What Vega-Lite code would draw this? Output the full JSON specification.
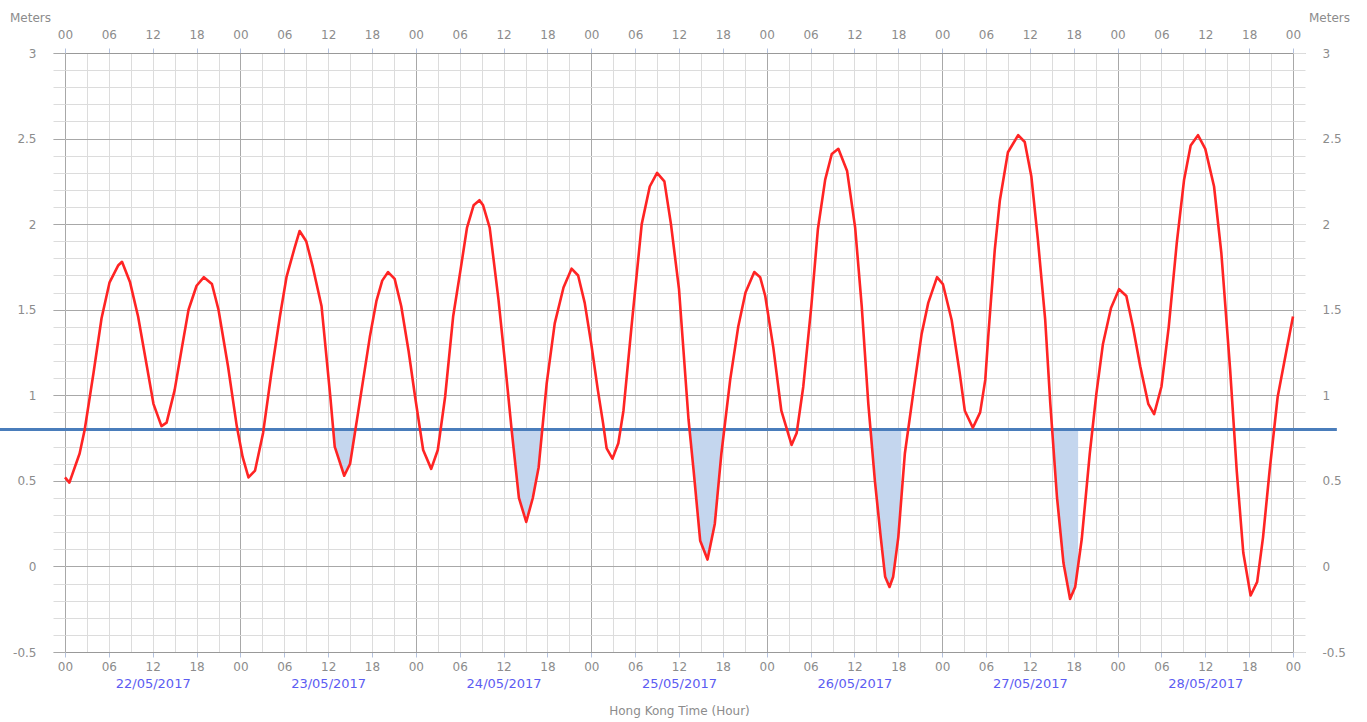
{
  "$schema": "https://vega.github.io/schema/vega-lite/v6.json",
  "width": 1228,
  "height": 599,
  "autosize": "none",
  "padding": {"left": 65, "top": 53, "right": 74, "bottom": 70},
  "background": "white",
  "config": {
    "view": {"stroke": null},
    "axis": {"labelFont": "DejaVu Sans", "titleFont": "DejaVu Sans", "labelFontSize": 12, "titleFontSize": 12, "titleFontWeight": "normal", "labelColor": "#8c8c8c", "titleColor": "#8c8c8c", "labelFlush": false, "labelOverlap": false}
  },
  "datasets": {
    "tide": [
      {"hour":0,"level":0.52},{"hour":0.6,"level":0.49},{"hour":2.0,"level":0.66},{"hour":2.7,"level":0.80},{"hour":3.9,"level":1.13},{"hour":5.0,"level":1.45},{"hour":6.1,"level":1.66},{"hour":7.3,"level":1.76},{"hour":7.8,"level":1.78},{"hour":8.9,"level":1.66},{"hour":10.0,"level":1.46},{"hour":11.2,"level":1.17},{"hour":12.1,"level":0.95},{"hour":13.2,"level":0.82},{"hour":13.9,"level":0.84},{"hour":15.0,"level":1.03},{"hour":16.0,"level":1.28},{"hour":16.9,"level":1.50},{"hour":18.0,"level":1.64},{"hour":19.0,"level":1.69},{"hour":20.1,"level":1.65},{"hour":21.0,"level":1.50},{"hour":22.3,"level":1.17},{"hour":23.5,"level":0.82},{"hour":24.3,"level":0.64},{"hour":25.1,"level":0.52},{"hour":26.0,"level":0.56},{"hour":27.1,"level":0.78},{"hour":28.2,"level":1.12},{"hour":29.4,"level":1.46},{"hour":30.3,"level":1.69},{"hour":31.4,"level":1.86},{"hour":32.1,"level":1.96},{"hour":33.0,"level":1.90},{"hour":33.9,"level":1.75},{"hour":35.1,"level":1.52},{"hour":36.3,"level":0.99},{"hour":36.9,"level":0.70},{"hour":38.2,"level":0.53},{"hour":39.0,"level":0.60},{"hour":40.1,"level":0.90},{"hour":41.7,"level":1.34},{"hour":42.6,"level":1.55},{"hour":43.4,"level":1.67},{"hour":44.2,"level":1.72},{"hour":45.1,"level":1.68},{"hour":46.0,"level":1.52},{"hour":47.0,"level":1.26},{"hour":47.9,"level":0.99},{"hour":49.0,"level":0.68},{"hour":50.1,"level":0.57},{"hour":51.0,"level":0.68},{"hour":52.0,"level":0.99},{"hour":53.1,"level":1.46},{"hour":54.1,"level":1.73},{"hour":55.0,"level":1.98},{"hour":55.9,"level":2.11},{"hour":56.7,"level":2.14},{"hour":57.2,"level":2.11},{"hour":58.1,"level":1.98},{"hour":59.3,"level":1.56},{"hour":60.2,"level":1.19},{"hour":61.1,"level":0.80},{"hour":62.1,"level":0.40},{"hour":63.1,"level":0.26},{"hour":64.0,"level":0.40},{"hour":64.8,"level":0.58},{"hour":65.9,"level":1.07},{"hour":67.0,"level":1.42},{"hour":68.2,"level":1.63},{"hour":69.3,"level":1.74},{"hour":70.2,"level":1.70},{"hour":71.1,"level":1.54},{"hour":72.0,"level":1.30},{"hour":72.9,"level":1.03},{"hour":73.6,"level":0.84},{"hour":74.1,"level":0.69},{"hour":74.9,"level":0.63},{"hour":75.7,"level":0.72},{"hour":76.4,"level":0.91},{"hour":77.5,"level":1.40},{"hour":78.9,"level":2.00},{"hour":80.0,"level":2.22},{"hour":81.0,"level":2.30},{"hour":82.0,"level":2.25},{"hour":82.9,"level":2.00},{"hour":84.0,"level":1.62},{"hour":85.3,"level":0.86},{"hour":86.0,"level":0.56},{"hour":86.9,"level":0.15},{"hour":87.9,"level":0.04},{"hour":88.9,"level":0.25},{"hour":89.8,"level":0.66},{"hour":91.0,"level":1.09},{"hour":92.1,"level":1.40},{"hour":93.1,"level":1.60},{"hour":94.3,"level":1.72},{"hour":95.1,"level":1.69},{"hour":95.8,"level":1.58},{"hour":96.9,"level":1.28},{"hour":98.0,"level":0.91},{"hour":99.4,"level":0.71},{"hour":100.1,"level":0.78},{"hour":101.0,"level":1.05},{"hour":102.1,"level":1.52},{"hour":103.0,"level":1.97},{"hour":104.0,"level":2.26},{"hour":104.9,"level":2.41},{"hour":105.8,"level":2.44},{"hour":107.0,"level":2.31},{"hour":108.1,"level":1.98},{"hour":109.0,"level":1.52},{"hour":109.9,"level":0.95},{"hour":110.8,"level":0.50},{"hour":111.6,"level":0.17},{"hour":112.2,"level":-0.06},{"hour":112.8,"level":-0.12},{"hour":113.3,"level":-0.06},{"hour":114.0,"level":0.17},{"hour":114.9,"level":0.66},{"hour":116.1,"level":1.03},{"hour":117.2,"level":1.36},{"hour":118.1,"level":1.54},{"hour":119.3,"level":1.69},{"hour":120.1,"level":1.65},{"hour":121.3,"level":1.44},{"hour":122.4,"level":1.13},{"hour":123.1,"level":0.91},{"hour":124.2,"level":0.81},{"hour":125.2,"level":0.90},{"hour":125.9,"level":1.09},{"hour":126.3,"level":1.34},{"hour":127.2,"level":1.85},{"hour":127.9,"level":2.14},{"hour":129.0,"level":2.42},{"hour":130.4,"level":2.52},{"hour":131.3,"level":2.48},{"hour":132.2,"level":2.28},{"hour":133.1,"level":1.91},{"hour":134.1,"level":1.44},{"hour":134.8,"level":0.95},{"hour":135.7,"level":0.41},{"hour":136.6,"level":0.02},{"hour":137.5,"level":-0.19},{"hour":138.2,"level":-0.12},{"hour":139.1,"level":0.16},{"hour":140.2,"level":0.66},{"hour":141.1,"level":1.01},{"hour":142.0,"level":1.30},{"hour":143.1,"level":1.51},{"hour":144.2,"level":1.62},{"hour":145.2,"level":1.58},{"hour":146.1,"level":1.40},{"hour":147.1,"level":1.17},{"hour":148.2,"level":0.95},{"hour":149.0,"level":0.89},{"hour":150.0,"level":1.05},{"hour":151.0,"level":1.40},{"hour":152.1,"level":1.89},{"hour":153.1,"level":2.26},{"hour":154.0,"level":2.46},{"hour":155.0,"level":2.52},{"hour":156.0,"level":2.44},{"hour":157.2,"level":2.22},{"hour":158.2,"level":1.83},{"hour":159.4,"level":1.15},{"hour":160.3,"level":0.56},{"hour":161.2,"level":0.08},{"hour":162.2,"level":-0.17},{"hour":163.1,"level":-0.09},{"hour":163.9,"level":0.17},{"hour":164.8,"level":0.56},{"hour":165.9,"level":0.99},{"hour":167.1,"level":1.26},{"hour":168.0,"level":1.46}
    ],
    "shade": [
      {"hour":36.7,"level":0.8,"trough":"A"},{"hour":36.9,"level":0.70,"trough":"A"},{"hour":38.2,"level":0.53,"trough":"A"},{"hour":39.0,"level":0.60,"trough":"A"},{"hour":39.7,"level":0.8,"trough":"A"},
      {"hour":61.1,"level":0.8,"trough":"B"},{"hour":62.1,"level":0.40,"trough":"B"},{"hour":63.1,"level":0.26,"trough":"B"},{"hour":64.0,"level":0.40,"trough":"B"},{"hour":64.8,"level":0.58,"trough":"B"},{"hour":65.3,"level":0.8,"trough":"B"},
      {"hour":85.4,"level":0.8,"trough":"C"},{"hour":86.0,"level":0.56,"trough":"C"},{"hour":86.9,"level":0.15,"trough":"C"},{"hour":87.9,"level":0.04,"trough":"C"},{"hour":88.9,"level":0.25,"trough":"C"},{"hour":89.8,"level":0.66,"trough":"C"},{"hour":90.1,"level":0.8,"trough":"C"},
      {"hour":110.2,"level":0.8,"trough":"D"},{"hour":110.8,"level":0.50,"trough":"D"},{"hour":111.6,"level":0.17,"trough":"D"},{"hour":112.2,"level":-0.06,"trough":"D"},{"hour":112.8,"level":-0.12,"trough":"D"},{"hour":113.3,"level":-0.06,"trough":"D"},{"hour":114.0,"level":0.17,"trough":"D"},{"hour":114.4,"level":0.36,"trough":"D"},
      {"hour":135.05,"level":0.8,"trough":"E"},{"hour":135.7,"level":0.41,"trough":"E"},{"hour":136.6,"level":0.02,"trough":"E"},{"hour":137.5,"level":-0.19,"trough":"E"},{"hour":138.2,"level":-0.12,"trough":"E"},{"hour":138.6,"level":0.03,"trough":"E"}
    ],
    "threshold": [{"from":-8.9,"to":174,"level":0.8}]
  },
  "resolve": {"axis": {"x": "independent", "y": "independent"}},
  "layer": [
    {
      "data": {"name": "shade"},
      "mark": {"type": "area", "color": "#c4d6ee", "opacity": 1},
      "encoding": {
        "x": {"field": "hour", "type": "quantitative", "scale": {"domain": [0, 168], "nice": false, "zero": false},
          "axis": {"orient": "bottom", "values": [0,3,6,9,12,15,18,21,24,27,30,33,36,39,42,45,48,51,54,57,60,63,66,69,72,75,78,81,84,87,90,93,96,99,102,105,108,111,114,117,120,123,126,129,132,135,138,141,144,147,150,153,156,159,162,165,168],
            "grid": true, "gridColor": "#dcdcdc", "gridWidth": 1, "labels": false, "ticks": false, "domain": false, "title": null}},
        "y": {"field": "level", "type": "quantitative", "scale": {"domain": [-0.5, 3], "nice": false, "zero": false},
          "axis": {"orient": "left", "values": [-0.5,-0.4,-0.3,-0.2,-0.1,0,0.1,0.2,0.3,0.4,0.5,0.6,0.7,0.8,0.9,1,1.1,1.2,1.3,1.4,1.5,1.6,1.7,1.8,1.9,2,2.1,2.2,2.3,2.4,2.5,2.6,2.7,2.8,2.9,3],
            "grid": true, "gridColor": "#dcdcdc", "gridWidth": 1, "ticks": true, "tickSize": 12, "tickColor": "#dcdcdc", "labels": false, "domain": false, "title": null}},
        "y2": {"datum": 0.8},
        "detail": {"field": "trough", "type": "nominal"}
      }
    },
    {
      "data": {"name": "threshold"},
      "mark": {"type": "rule", "color": "#4a7dbb", "strokeWidth": 3, "clip": false},
      "encoding": {
        "x": {"field": "from", "type": "quantitative", "scale": {"domain": [0, 168], "nice": false, "zero": false},
          "axis": {"orient": "bottom", "values": [0,24,48,72,96,120,144,168], "grid": true, "gridColor": "#a8a8a8", "gridWidth": 1, "labels": false, "ticks": false, "domain": false, "title": null}},
        "x2": {"field": "to"},
        "y": {"field": "level", "type": "quantitative", "scale": {"domain": [-0.5, 3], "nice": false, "zero": false},
          "axis": {"orient": "left", "values": [-0.5,0,0.5,1,1.5,2,2.5,3], "grid": true, "gridColor": "#a8a8a8", "gridWidth": 1, "ticks": true, "tickSize": 12, "tickColor": "#a8a8a8", "labelPadding": 17, "labelExpr": "toString(datum.value)", "domain": false,
            "title": "Meters", "titleAngle": 0, "titleX": -35, "titleY": -36, "titleAlign": "center", "titleBaseline": "middle"}}
      }
    },
    {
      "data": {"name": "tide"},
      "mark": {"type": "line", "color": "#ff2424", "strokeWidth": 2.6, "strokeJoin": "round"},
      "encoding": {
        "x": {"field": "hour", "type": "quantitative", "scale": {"domain": [0, 168], "nice": false, "zero": false},
          "axis": {"orient": "bottom", "values": [0,6,12,18,24,30,36,42,48,54,60,66,72,78,84,90,96,102,108,114,120,126,132,138,144,150,156,162,168],
            "labelExpr": "(datum.value % 24) < 10 ? '0' + (datum.value % 24) : '' + (datum.value % 24)",
            "grid": false, "ticks": true, "tickSize": 5, "tickColor": "#b4c2de", "domain": true, "domainColor": "#999999", "labelPadding": 4, "title": null}},
        "y": {"field": "level", "type": "quantitative", "scale": {"domain": [-0.5, 3], "nice": false, "zero": false},
          "axis": {"orient": "right", "values": [-0.5,0,0.5,1,1.5,2,2.5,3], "grid": false, "ticks": true, "tickSize": 12, "tickColor": "#a8a8a8", "labelPadding": 17, "labelExpr": "toString(datum.value)", "domain": false,
            "title": "Meters", "titleAngle": 0, "titleX": 36, "titleY": -36, "titleAlign": "center", "titleBaseline": "middle"}}
      }
    },
    {
      "data": {"name": "tide"},
      "mark": {"type": "line", "opacity": 0},
      "encoding": {
        "x": {"field": "hour", "type": "quantitative", "scale": {"domain": [0, 168], "nice": false, "zero": false},
          "axis": {"orient": "top", "values": [0,6,12,18,24,30,36,42,48,54,60,66,72,78,84,90,96,102,108,114,120,126,132,138,144,150,156,162,168],
            "labelExpr": "(datum.value % 24) < 10 ? '0' + (datum.value % 24) : '' + (datum.value % 24)",
            "grid": false, "ticks": true, "tickSize": 5, "tickColor": "#b4c2de", "domain": true, "domainColor": "#999999", "labelPadding": 7, "title": null}},
        "y": {"field": "level", "type": "quantitative", "scale": {"domain": [-0.5, 3], "nice": false, "zero": false},
          "axis": {"orient": "right", "values": [-0.5,-0.4,-0.3,-0.2,-0.1,0,0.1,0.2,0.3,0.4,0.5,0.6,0.7,0.8,0.9,1,1.1,1.2,1.3,1.4,1.5,1.6,1.7,1.8,1.9,2,2.1,2.2,2.3,2.4,2.5,2.6,2.7,2.8,2.9,3],
            "grid": false, "ticks": true, "tickSize": 12, "tickColor": "#dcdcdc", "labels": false, "domain": false, "title": null}}
      }
    },
    {
      "data": {"name": "tide"},
      "mark": {"type": "line", "opacity": 0},
      "encoding": {
        "x": {"field": "hour", "type": "quantitative", "scale": {"domain": [0, 168], "nice": false, "zero": false},
          "axis": {"orient": "bottom", "values": [12,36,60,84,108,132,156],
            "labelExpr": "['22/05/2017','23/05/2017','24/05/2017','25/05/2017','26/05/2017','27/05/2017','28/05/2017'][floor(datum.value / 24)]",
            "labelColor": "#5c5cf2", "labelFontSize": 13, "grid": false, "ticks": false, "domain": false, "labelPadding": 25,
            "title": "Hong Kong Time (Hour)", "titleY": 58, "titleBaseline": "middle"}},
        "y": {"field": "level", "type": "quantitative", "scale": {"domain": [-0.5, 3], "nice": false, "zero": false}, "axis": null}
      }
    }
  ]
}
